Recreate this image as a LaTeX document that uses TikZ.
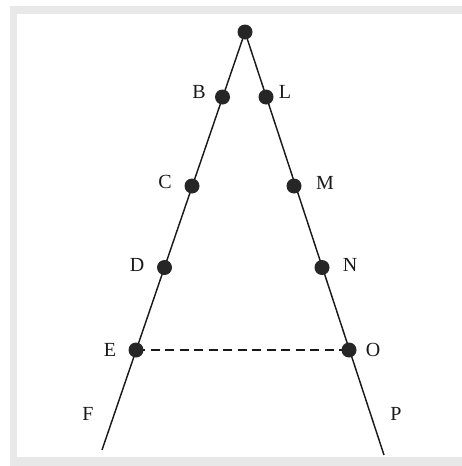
\documentclass[tikz,border=0pt]{standalone}
\usepackage{fontspec}
\setmainfont{Liberation Serif}
\begin{document}
\begin{tikzpicture}[x=1pt,y=-1pt,
  pt/.style={circle,fill=black!85,inner sep=0pt,minimum size=15pt},
  lbl/.style={font=\fontsize{20}{22}\selectfont,inner sep=0pt,text=black!90},
  ln/.style={line width=1.45pt,black!90}]
\useasboundingbox (0,0) rectangle (462,466);
\fill[black!9] (10,6) rectangle (462,14);
\fill[black!9] (10,6) rectangle (17,466);
\fill[black!9] (10,457) rectangle (462,466);
% points
\coordinate (F0) at (102,450);
\coordinate (P0) at (384,455);
\draw[ln] (245,32) coordinate (A0) -- (F0);
\draw[ln] (A0) -- (P0);
\draw[ln,dashed,dash pattern=on 9pt off 5.5pt] (136,350) -- (349,350);
\node[pt] (A) at (245,32) {};
\node[pt] (B) at (222.5,97) {};
\node[pt] (L) at (266,97) {};
\node[pt] (C) at (192,186) {};
\node[pt] (M) at (294,186) {};
\node[pt] (D) at (164.5,267.5) {};
\node[pt] (N) at (322,267.5) {};
\node[pt] (E) at (136,350) {};
\node[pt] (O) at (349,350) {};
\node[lbl] (lB) at (199,92) {B};
\node[lbl] (lL) at (285,92) {L};
\node[lbl] (lC) at (165,182) {C};
\node[lbl] (lM) at (325,183) {M};
\node[lbl] (lD) at (137,265) {D};
\node[lbl] (lN) at (350,265) {N};
\node[lbl] (lE) at (110,350) {E};
\node[lbl] (lO) at (373,350) {O};
\node[lbl] (lF) at (88,414) {F};
\node[lbl] (lP) at (396,414) {P};
\end{tikzpicture}
\end{document}
